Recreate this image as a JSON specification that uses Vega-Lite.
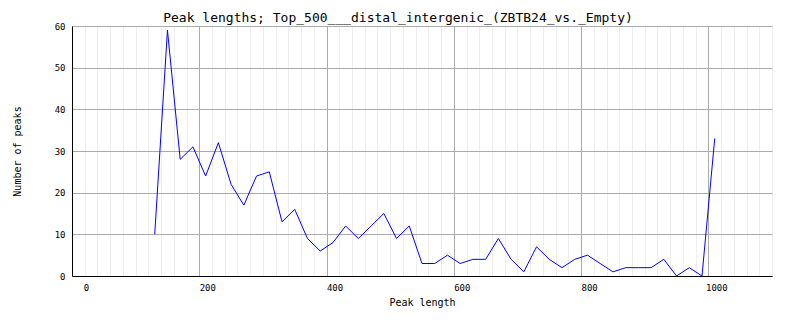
{
  "$schema": "https://vega.github.io/schema/vega-lite/v6.json",
  "width": 700,
  "height": 250,
  "autosize": {"type": "none"},
  "padding": {"left": 72, "top": 26, "right": 30, "bottom": 52},
  "background": "white",
  "title": {
    "text": "Peak lengths; Top_500___distal_intergenic_(ZBTB24_vs._Empty)",
    "font": "DejaVu Sans Mono",
    "fontSize": 13,
    "fontWeight": "normal",
    "color": "black",
    "anchor": "middle",
    "frame": "group",
    "dx": -24,
    "offset": -3
  },
  "config": {
    "view": {"stroke": null},
    "axis": {
      "labelFont": "DejaVu Sans Mono",
      "titleFont": "DejaVu Sans Mono",
      "labelColor": "black",
      "titleColor": "black",
      "titleFontWeight": "normal",
      "labelFontSize": 9,
      "titleFontSize": 10,
      "ticks": false,
      "domainColor": "black",
      "domainWidth": 1
    }
  },
  "data": {
    "values": [
      {"len": 130, "count": 10}, {"len": 150, "count": 59}, {"len": 170, "count": 28},
      {"len": 190, "count": 31}, {"len": 210, "count": 24}, {"len": 230, "count": 32},
      {"len": 250, "count": 22}, {"len": 270, "count": 17}, {"len": 290, "count": 24},
      {"len": 310, "count": 25}, {"len": 330, "count": 13}, {"len": 350, "count": 16},
      {"len": 370, "count": 9}, {"len": 390, "count": 6}, {"len": 410, "count": 8},
      {"len": 430, "count": 12}, {"len": 450, "count": 9}, {"len": 470, "count": 12},
      {"len": 490, "count": 15}, {"len": 510, "count": 9}, {"len": 530, "count": 12},
      {"len": 550, "count": 3}, {"len": 570, "count": 3}, {"len": 590, "count": 5},
      {"len": 610, "count": 3}, {"len": 630, "count": 4}, {"len": 650, "count": 4},
      {"len": 670, "count": 9}, {"len": 690, "count": 4}, {"len": 710, "count": 1},
      {"len": 730, "count": 7}, {"len": 750, "count": 4}, {"len": 770, "count": 2},
      {"len": 790, "count": 4}, {"len": 810, "count": 5}, {"len": 830, "count": 3},
      {"len": 850, "count": 1}, {"len": 870, "count": 2}, {"len": 890, "count": 2},
      {"len": 910, "count": 2}, {"len": 930, "count": 4}, {"len": 950, "count": 0},
      {"len": 970, "count": 2}, {"len": 990, "count": 0}, {"len": 1010, "count": 33}
    ]
  },
  "mark": {"type": "line", "color": "#0000ff", "strokeWidth": 1, "clip": true},
  "encoding": {
    "x": {
      "field": "len",
      "type": "quantitative",
      "scale": {"domain": [0, 1100], "nice": false, "zero": false},
      "axis": {
        "title": "Peak length",
        "values": [0, 20, 40, 60, 80, 100, 120, 140, 160, 180, 200, 220, 240, 260, 280, 300, 320, 340, 360, 380, 400, 420, 440, 460, 480, 500, 520, 540, 560, 580, 600, 620, 640, 660, 680, 700, 720, 740, 760, 780, 800, 820, 840, 860, 880, 900, 920, 940, 960, 980, 1000, 1020, 1040, 1060, 1080, 1100],
        "format": "d",
        "labelExpr": "datum.value % 200 === 0 && datum.value <= 1000 ? datum.label : ''",
        "labelOffset": {"condition": {"test": "datum.value === 0", "value": 14}, "value": 8},
        "labelPadding": 7,
        "labelFlush": false,
        "labelOverlap": false,
        "grid": true,
        "gridColor": {"condition": {"test": "datum.value % 200 === 0", "value": "#aaaaaa"}, "value": "#eeeeee"},
        "gridWidth": 1,
        "titleBaseline": "middle",
        "titleY": 26
      }
    },
    "y": {
      "field": "count",
      "type": "quantitative",
      "scale": {"domain": [0, 60], "nice": false},
      "axis": {
        "title": "Number of peaks",
        "values": [0, 10, 20, 30, 40, 50, 60],
        "labelPadding": 7,
        "labelFlush": false,
        "grid": true,
        "gridColor": "#aaaaaa",
        "titleBaseline": "middle",
        "titleX": -55,
        "titleY": 125
      }
    }
  }
}
